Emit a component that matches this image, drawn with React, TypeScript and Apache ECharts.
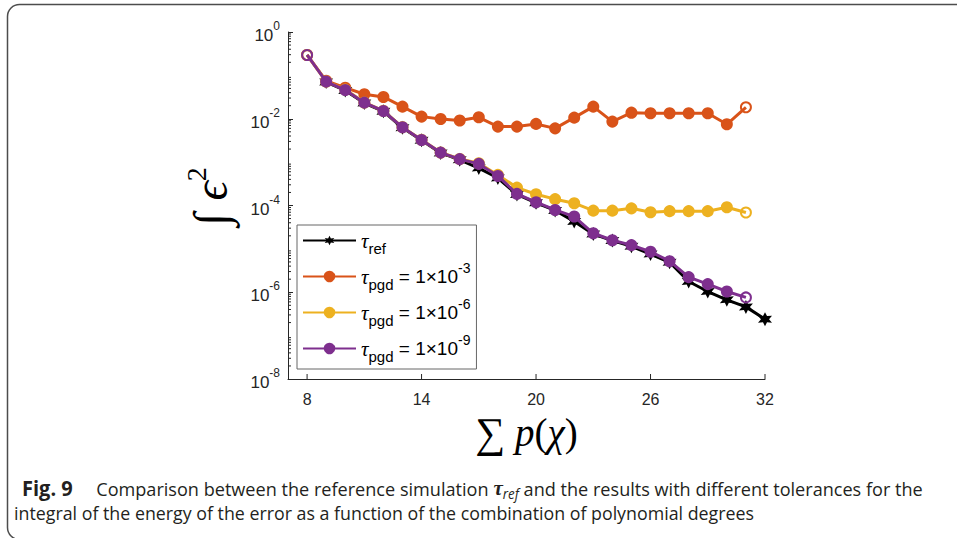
import React, { useEffect, useRef } from "react";
import * as echarts from "echarts";

// ---------- data ----------
const xPgd = [8, 9, 10, 11, 12, 13, 14, 15, 16, 17, 18, 19, 20, 21, 22, 23, 24, 25, 26, 27, 28, 29, 30, 31];
const xRef = [9, 10, 11, 12, 13, 14, 15, 16, 17, 18, 19, 20, 21, 22, 23, 24, 25, 26, 27, 28, 29, 30, 31, 32];

const refVals = [
  0.07, 0.045, 0.023, 0.0148, 0.0062, 0.0032, 0.00163, 0.00113, 0.00073, 0.00043,
  1.8e-4, 1.15e-4, 7.7e-5, 4.3e-5, 2.2e-5, 1.55e-5, 1.15e-5, 7.6e-6, 4.9e-6, 1.77e-6,
  1.04e-6, 6.7e-7, 4.6e-7, 2.4e-7,
];
const pgd3Vals = [
  0.295, 0.075, 0.052, 0.0367, 0.0318, 0.019, 0.0112, 0.0099, 0.0091, 0.0108, 0.0066, 0.0066,
  0.0076, 0.006, 0.0106, 0.019, 0.0086, 0.0138, 0.0134, 0.0134, 0.0134, 0.0134, 0.00746, 0.0184,
];
const pgd6Vals = [
  0.295, 0.0716, 0.047, 0.0237, 0.0152, 0.0064, 0.00326, 0.00167, 0.00118, 0.00094, 5.07e-4,
  2.59e-4, 1.82e-4, 1.4e-4, 1.13e-4, 7.6e-5, 7.6e-5, 8.6e-5, 7.0e-5, 7.4e-5, 7.4e-5, 7.4e-5,
  9.1e-5, 6.9e-5,
];
const pgd9Vals = [
  0.295, 0.0716, 0.046, 0.0235, 0.0151, 0.00636, 0.00324, 0.00166, 0.00117, 0.00091, 4.8e-4,
  1.85e-4, 1.19e-4, 7.9e-5, 5.56e-5, 2.29e-5, 1.58e-5, 1.22e-5, 8.6e-6, 5.2e-6, 2.23e-6,
  1.54e-6, 1.04e-6, 7.6e-7,
];

const seriesNames = ["ref", "-3", "-6", "-9"];
const seriesColors = ["#000000", "#D95319", "#EDB120", "#7E2F8E"];
const xTickValues = [8, 14, 20, 26, 32];
const xMin = 7;
const xMax = 32;
const yMinExp = -8;
const yMaxExp = 0;

const captionBold = "Fig. 9";
const captionLine1a = "     Comparison between the reference simulation ";
const captionLine1b = " and the results with different tolerances for the";
const captionLine2 =
  "integral of the energy of the error as a function of the combination of polynomial degrees";

const HEXAGRAM =
  "path://M10,0 L12.5,5.67 L18.66,5 L15,10 L18.66,15 L12.5,14.33 L10,20 L7.5,14.33 L1.34,15 L5,10 L1.34,5 L7.5,5.67 Z";

const AXIS_COLOR = "#262626";
const SANS = "Liberation Sans, Arial, Helvetica, sans-serif";
const SERIF = "Liberation Serif, DejaVu Serif, serif";
const CAP_FONT = "Open Sans, Noto Sans, sans-serif";

function minorTickValues(): number[] {
  const out: number[] = [];
  for (let n = yMinExp; n < yMaxExp; n++) {
    for (let k = 2; k <= 9; k++) out.push(k * Math.pow(10, n));
  }
  return out;
}

export default function App() {
  const ref = useRef<HTMLDivElement>(null);

  useEffect(() => {
    if (!ref.current) return;
    const chart = echarts.init(ref.current, null, { renderer: "svg" });

    const hollow = "rgba(255,255,255,0)";
    const pair = (xs: number[], vs: number[]) =>
      xs.map((x, i) => {
        const endpoint = i === 0 || i === xs.length - 1;
        return endpoint ? { value: [x, vs[i]], itemStyle: { color: hollow } } : [x, vs[i]];
      });

    const circleSeries = (idx: number, vals: number[]) => ({
      name: seriesNames[idx],
      type: "line",
      data: pair(xPgd, vals),
      symbol: "circle",
      symbolSize: 10,
      showSymbol: true,
      showAllSymbol: true,
      lineStyle: { color: seriesColors[idx], width: 3 },
      itemStyle: { color: seriesColors[idx], borderColor: seriesColors[idx], borderWidth: 2 },
      emphasis: { disabled: true },
      z: 2 + idx,
    });

    // tick marks drawn through the axes' scales (inward, MATLAB style)
    const tickData = [
      ...minorTickValues().map((v) => [xMin, v, 0, 3]),
      ...xTickValues.map((x) => [x, Math.pow(10, yMinExp), 1, 5]),
    ];

    const option: any = {
      animation: false,
      backgroundColor: "#ffffff",
      grid: {
        left: 288,
        right: 192,
        top: 32,
        bottom: 159,
        containLabel: false,
        outerBoundsMode: "none",
      },
      xAxis: {
        type: "value",
        min: xMin,
        max: xMax,
        axisLine: { show: true, onZero: false, lineStyle: { color: AXIS_COLOR, width: 1 } },
        axisTick: { show: false },
        axisLabel: {
          customValues: xTickValues,
          color: AXIS_COLOR,
          fontFamily: SANS,
          fontSize: 16,
          margin: 12,
        },
        splitLine: { show: false },
        name: "{s|∑}{i| p}{n|(}{i|χ}{n|)}",
        nameLocation: "middle",
        nameGap: 21,
        nameTextStyle: {
          rich: {
            s: { fontFamily: SERIF, fontSize: 42, color: "#000" },
            i: { fontFamily: SERIF, fontSize: 39, fontStyle: "italic", color: "#000" },
            n: { fontFamily: SERIF, fontSize: 39, color: "#000" },
          },
        },
      },
      yAxis: {
        type: "log",
        logBase: 10,
        min: Math.pow(10, yMinExp),
        max: Math.pow(10, yMaxExp),
        interval: 2,
        axisLine: { show: true, onZero: false, lineStyle: { color: AXIS_COLOR, width: 1 } },
        axisTick: { show: true, inside: true, length: 5, lineStyle: { color: AXIS_COLOR } },
        axisLabel: {
          color: AXIS_COLOR,
          margin: 8,
          formatter: (v: number) => `{b|10}{s|${Math.round(Math.log10(v))}}`,
          rich: {
            b: { fontFamily: SANS, fontSize: 17, color: AXIS_COLOR, lineHeight: 24, verticalAlign: "bottom" },
            s: { fontFamily: SANS, fontSize: 12, color: AXIS_COLOR, lineHeight: 12, verticalAlign: "top" },
          },
        },
        splitLine: { show: false },
        minorTick: { show: false },
        name: "{i|∫}{e| ϵ}{s|2}",
        nameLocation: "middle",
        nameRotate: 90,
        nameGap: 50,
        nameTextStyle: {
          padding: [0, 0, 0, 18],
          rich: {
            i: { fontFamily: SERIF, fontSize: 48, color: "#000", lineHeight: 56 },
            e: { fontFamily: SERIF, fontSize: 48, fontStyle: "italic", color: "#000", lineHeight: 56 },
            s: { fontFamily: SERIF, fontSize: 28, color: "#000", lineHeight: 28, verticalAlign: "top" },
          },
        },
      },
      legend: {
        orient: "vertical",
        left: 297,
        top: 225,
        padding: [5, 6, 5, 5],
        itemGap: 5,
        itemWidth: 53,
        itemHeight: 12,
        borderColor: "#666",
        borderWidth: 1,
        backgroundColor: "#fff",
        data: seriesNames,
        formatter: (name: string) =>
          name === "ref"
            ? "{tau|τ}{sub|ref}"
            : `{tau|τ}{sub|pgd}{t| = 1×10}{sup|${name}}`,
        textStyle: {
          color: "#000",
          fontFamily: SANS,
          fontSize: 17,
          rich: {
            tau: { fontFamily: SERIF, fontStyle: "italic", fontSize: 21, color: "#000", lineHeight: 31 },
            sub: { fontFamily: SANS, fontSize: 15, color: "#000", lineHeight: 15, verticalAlign: "bottom" },
            t: { fontFamily: SANS, fontSize: 19, color: "#000", lineHeight: 31 },
            sup: { fontFamily: SANS, fontSize: 14, color: "#000", lineHeight: 14, verticalAlign: "top" },
          },
        },
      },
      series: [
        {
          name: seriesNames[0],
          type: "line",
          data: xRef.map((x, i) => [x, refVals[i]]),
          symbol: HEXAGRAM,
          symbolSize: 14,
          showSymbol: true,
          showAllSymbol: true,
          lineStyle: { color: seriesColors[0], width: 3 },
          itemStyle: { color: seriesColors[0] },
          emphasis: { disabled: true },
          z: 2,
        },
        circleSeries(1, pgd3Vals),
        circleSeries(2, pgd6Vals),
        circleSeries(3, pgd9Vals),
        {
          name: "axisTicks",
          type: "custom",
          silent: true,
          clip: false,
          data: tickData,
          renderItem: (_params: any, api: any) => {
            const p = api.coord([api.value(0), api.value(1)]);
            const vertical = api.value(2) === 1;
            const len = api.value(3);
            return {
              type: "line",
              shape: vertical
                ? { x1: p[0], y1: p[1], x2: p[0], y2: p[1] - len }
                : { x1: p[0], y1: p[1], x2: p[0] + len, y2: p[1] },
              style: { stroke: AXIS_COLOR, lineWidth: 1 },
            };
          },
          z: 1,
        },
      ],
      graphic: [
        {
          type: "rect",
          shape: { x: 7.5, y: 4.5, width: 1000, height: 535, r: 12 },
          style: { fill: "none", stroke: "#4d4d4d", lineWidth: 1.5 },
          silent: true,
          z: -10,
        },
        {
          type: "text",
          x: 22,
          y: 488,
          scaleX: 0.953,
          style: {
            text: `{b|${captionBold}}{n|${captionLine1a}}{t|τ}{r|ref}{n|${captionLine1b}}`,
            verticalAlign: "middle",
            rich: {
              b: { fontFamily: CAP_FONT, fontWeight: "bold", fontSize: 21, fill: "#231f20", lineHeight: 24 },
              n: { fontFamily: CAP_FONT, fontSize: 19, fill: "#231f20", lineHeight: 24 },
              t: { fontFamily: SERIF, fontStyle: "italic", fontWeight: "bold", fontSize: 22, fill: "#231f20", lineHeight: 24 },
              r: { fontFamily: CAP_FONT, fontStyle: "italic", fontSize: 14, fill: "#231f20", lineHeight: 14, verticalAlign: "bottom" },
            },
          },
        },
        {
          type: "text",
          x: 14,
          y: 512,
          scaleX: 0.937,
          style: {
            text: captionLine2,
            fontFamily: CAP_FONT,
            fontSize: 19,
            fill: "#231f20",
            verticalAlign: "middle",
          },
        },
      ],
    };

    chart.setOption(option);
    return () => chart.dispose();
  }, []);

  return (
    <div
      ref={ref}
      style={{ position: "fixed", left: 0, top: 0, width: 957, height: 538, background: "#fff" }}
    />
  );
}
